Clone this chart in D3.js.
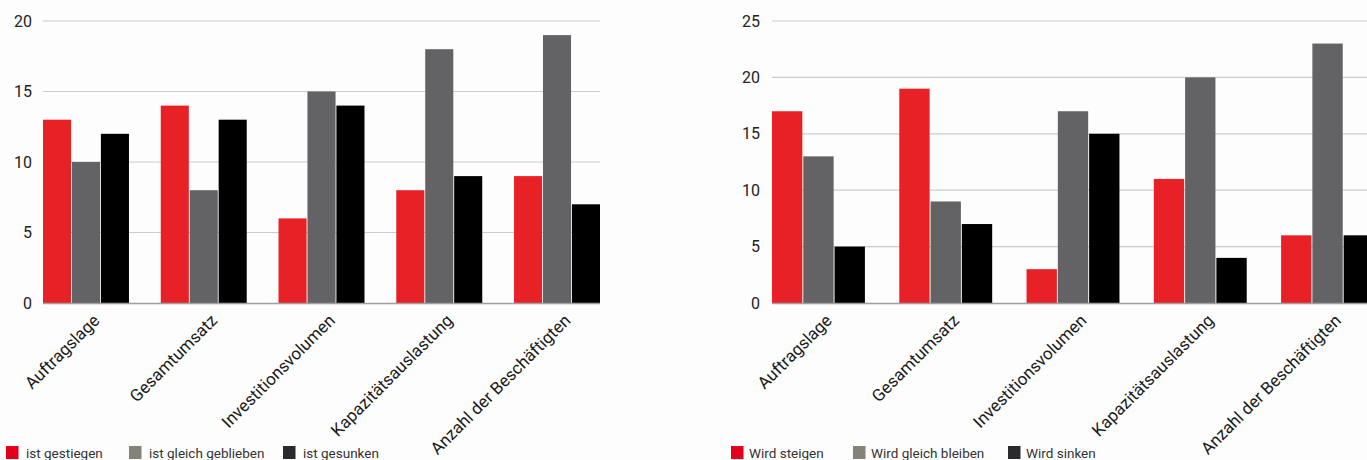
<!DOCTYPE html>
<html>
<head>
<meta charset="utf-8">
<script src="https://cdn.jsdelivr.net/npm/d3@7/dist/d3.min.js"></script>
<style>
  html, body { margin: 0; padding: 0; background: #fdfdfd; }
  svg { display: block; font-family: Roboto, "DejaVu Sans", sans-serif; }
</style>
</head>
<body>
<svg id="chart" width="1367" height="460"></svg>
<script>
// Kategorien (gemeinsam für beide Diagramme)
const categories = ["Auftragslage", "Gesamtumsatz", "Investitionsvolumen", "Kapazitätsauslastung", "Anzahl der Beschäftigten"];

// Rückblick
const pastSeries = ["ist gestiegen", "ist gleich geblieben", "ist gesunken"];
const pastRisen = [13, 14, 6, 8, 9];
const pastSame = [10, 8, 15, 18, 19];
const pastFallen = [12, 13, 14, 9, 7];
const pastTicks = [0, 5, 10, 15, 20];

// Erwartung
const futureSeries = ["Wird steigen", "Wird gleich bleiben", "Wird sinken"];
const futureRise = [17, 19, 3, 11, 6];
const futureSame = [13, 9, 17, 20, 23];
const futureFall = [5, 7, 15, 4, 6];
const futureTicks = [0, 5, 10, 15, 20, 25];

const barColors = ["#e82127", "#636265", "#000000"];
const legendColors = ["#e2001a", "#858378", "#2a2a2e"];

const svg = d3.select("#chart");

function drawPanel(cfg) {
  const g = svg.append("g");
  const y = d3.scaleLinear().domain([0, cfg.ticks[cfg.ticks.length - 1]]).range([303, 21]);
  const x = d3.scaleBand().domain(categories).range([cfg.x0, cfg.x1])
    .paddingInner(0.27).paddingOuter(0);
  const xs = d3.scaleBand().domain([0, 1, 2]).range([0, x.bandwidth()]).paddingInner(0.03);

  // Gitterlinien
  g.append("g").selectAll("line").data(cfg.ticks.filter(t => t > 0)).join("line")
    .attr("x1", cfg.x0).attr("x2", cfg.gridEnd)
    .attr("y1", d => y(d)).attr("y2", d => y(d))
    .attr("stroke", "#cccccc").attr("stroke-width", 1.2);

  // Y-Achse
  const yAxis = g.append("g")
    .attr("transform", `translate(${cfg.labelRight},0)`)
    .call(d3.axisLeft(y).tickValues(cfg.ticks).tickSize(0).tickPadding(0));
  yAxis.select(".domain").remove();
  yAxis.selectAll("text")
    .attr("fill", "#222").attr("font-size", 16).attr("font-family", "Roboto, sans-serif");

  // Balken
  const rows = categories.map((c, i) => ({ cat: c, vals: cfg.values.map(v => v[i]) }));
  const grp = g.append("g").selectAll("g").data(rows).join("g")
    .attr("transform", d => `translate(${x(d.cat)},0)`);
  grp.selectAll("rect").data(d => d.vals.map((v, k) => ({ v, k }))).join("rect")
    .attr("x", d => xs(d.k))
    .attr("width", xs.bandwidth())
    .attr("y", d => y(d.v))
    .attr("height", d => y(0) - y(d.v))
    .attr("fill", d => barColors[d.k]);

  // Nulllinie
  g.append("line")
    .attr("x1", cfg.x0).attr("x2", cfg.gridEnd)
    .attr("y1", y(0) + 0.5).attr("y2", y(0) + 0.5)
    .attr("stroke", "#a0a0a0").attr("stroke-width", 1.5);

  // Kategoriebeschriftungen
  g.append("g").selectAll("text").data(categories).join("text")
    .attr("transform", d => `translate(${x(d) + x.bandwidth() / 2 + 6},${313}) rotate(-45)`)
    .attr("text-anchor", "end")
    .attr("dy", "0.71em")
    .attr("font-size", 17)
    .attr("fill", "#1a1a1a")
    .text(d => d);

  // Legende
  const leg = g.append("g").selectAll("g").data(cfg.series).join("g")
    .attr("transform", (d, i) => `translate(${cfg.legendX[i]},446)`);
  leg.append("rect").attr("width", 12.5).attr("height", 13)
    .attr("fill", (d, i) => legendColors[i]);
  leg.append("text").attr("x", cfg.legendGap).attr("y", 11.5)
    .attr("font-size", 13.5).attr("fill", "#333").text(d => d);
}

drawPanel({
  x0: 43, x1: 600, gridEnd: 600, labelRight: 32,
  ticks: pastTicks, values: [pastRisen, pastSame, pastFallen],
  series: pastSeries, legendX: [6, 129, 283], legendGap: 20
});

drawPanel({
  x0: 772, x1: 1374, gridEnd: 1367, labelRight: 760,
  ticks: futureTicks, values: [futureRise, futureSame, futureFall],
  series: futureSeries, legendX: [731, 853, 1008], legendGap: 18
});
</script>
</body>
</html>
